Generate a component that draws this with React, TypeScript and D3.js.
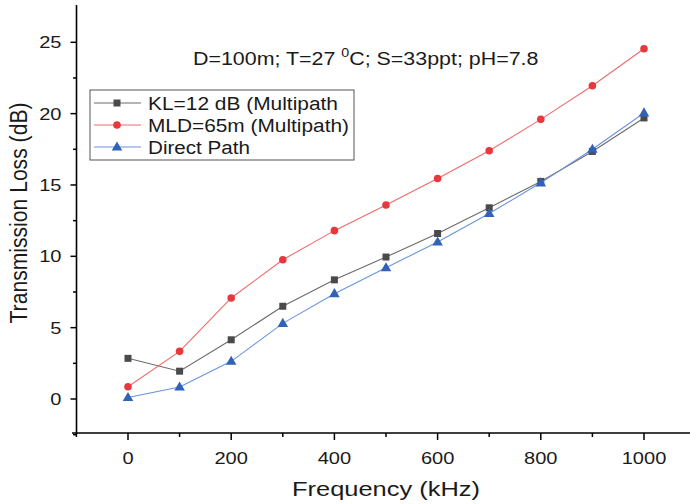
import React from "react";
import * as d3 from "d3";

const freqs = [0, 100, 200, 300, 400, 500, 600, 700, 800, 900, 1000];
const klValues = [2.85, 1.95, 4.15, 6.5, 8.35, 9.95, 11.6, 13.4, 15.25, 17.35, 19.7];
const mldValues = [0.86, 3.34, 7.08, 9.76, 11.8, 13.6, 15.45, 17.4, 19.6, 21.95, 24.55];
const directValues = [0.1, 0.84, 2.64, 5.3, 7.38, 9.2, 11.0, 13.0, 15.15, 17.5, 20.05];
const xMajorTicks = [0, 200, 400, 600, 800, 1000];
const xMinorTicks = [-100, 100, 300, 500, 700, 900];
const yMajorTicks = [0, 5, 10, 15, 20, 25];
const yMinorTicks = [-2.5, 2.5, 7.5, 12.5, 17.5, 22.5];
const seriesNames = ["KL=12 dB (Multipath", "MLD=65m (Multipath)", "Direct Path"];
const legendWidths = [190, 201, 102];

const W = 690, H = 504;
const x = d3.scaleLinear().domain([-100, 1100]).range([76.4, 695.6]);
const y = d3.scaleLinear().domain([0, 25]).range([399, 42.3]);
const yTop = 5, yBot = 433, xLeft = 76.5, xRight = 690;

const font = "'Liberation Sans', Arial, sans-serif";
const textCol = "#1a1a1a";
const SX = 1.18;

const series = [
  { name: seriesNames[0], values: klValues, line: "#6b6b6b", marker: "#4a4a4a", shape: "square" },
  { name: seriesNames[1], values: mldValues, line: "#f26a6a", marker: "#e8383d", shape: "circle" },
  { name: seriesNames[2], values: directValues, line: "#6a94dc", marker: "#2f62b8", shape: "triangle" },
];

function Marker({ shape, cx, cy, color }: { shape: string; cx: number; cy: number; color: string }) {
  if (shape === "square") return <rect x={cx - 3.5} y={cy - 3.5} width={7} height={7} fill={color} />;
  if (shape === "circle") return <circle cx={cx} cy={cy} r={3.8} fill={color} />;
  const sym = d3.symbol().type(d3.symbolTriangle).size(48)();
  return <path d={sym || ""} transform={`translate(${cx},${cy + 0.5})`} fill={color} />;
}

function SText({ x0, y0, anchor, size, children }: { x0: number; y0: number; anchor: string; size: number; children: any }) {
  return (
    <g transform={`translate(${x0},${y0}) scale(${SX},1)`}>
      <text x={0} y={0} textAnchor={anchor} fontFamily={font} fontSize={size} fill={textCol}>{children}</text>
    </g>
  );
}

export default function App() {
  const line = d3.line<number>().x((_, i) => x(freqs[i])).y((v) => y(v));
  return (
    <svg width={W} height={H} style={{ position: "absolute", left: 0, top: 0, background: "#fff" }}>
      {/* axes */}
      <line x1={xLeft} x2={xLeft} y1={yTop} y2={yBot + 1} stroke="#000" strokeWidth={1.6} />
      <line x1={72} x2={xRight} y1={yBot} y2={yBot} stroke="#000" strokeWidth={1.6} />
      {yMajorTicks.map((t) => (
        <g key={"ym" + t}>
          <line x1={xLeft - 6} x2={xLeft} y1={y(t)} y2={y(t)} stroke="#000" strokeWidth={1.5} />
          <SText x0={61.5} y0={y(t) + 6} anchor="end" size={17}>{t}</SText>
        </g>
      ))}
      {yMinorTicks.map((t) => (
        <line key={"yn" + t} x1={xLeft - 3.5} x2={xLeft} y1={y(t)} y2={y(t)} stroke="#000" strokeWidth={1.5} />
      ))}
      {xMajorTicks.map((t) => (
        <g key={"xm" + t}>
          <line x1={x(t)} x2={x(t)} y1={yBot} y2={yBot + 7} stroke="#000" strokeWidth={1.5} />
          <SText x0={x(t)} y0={464} anchor="middle" size={17}>{t}</SText>
        </g>
      ))}
      {xMinorTicks.map((t) => (
        <line key={"xn" + t} x1={x(t)} x2={x(t)} y1={yBot} y2={yBot + 4} stroke="#000" strokeWidth={1.5} />
      ))}
      <text x={386} y={496} textAnchor="middle" fontFamily={font} fontSize={20} fill={textCol}
        textLength={188} lengthAdjust="spacingAndGlyphs">Frequency (kHz)</text>
      <text transform="translate(27,213) rotate(-90)" textAnchor="middle" fontFamily={font} fontSize={23} fill={textCol}
        textLength={221} lengthAdjust="spacingAndGlyphs">Transmission Loss (dB)</text>

      {/* series */}
      {series.map((s) => (
        <g key={s.name}>
          <path d={line(s.values) || ""} fill="none" stroke={s.line} strokeWidth={1.1} />
          {s.values.map((v, i) => (
            <Marker key={i} shape={s.shape} cx={x(freqs[i])} cy={y(v)} color={s.marker} />
          ))}
        </g>
      ))}

      {/* annotation */}
      <g transform={`translate(193,65) scale(1.19,1)`}>
        <text x={0} y={0} fontFamily={font} fontSize={18} fill={textCol}>
          D=100m; T=27 <tspan dy={-8} fontSize={12}>0</tspan><tspan dy={8}>C; S=33ppt; pH=7.8</tspan>
        </text>
      </g>

      {/* legend */}
      <rect x={90} y={90} width={264} height={70} fill="#fff" stroke="#555" strokeWidth={1} />
      {series.map((s, i) => {
        const cy = 103 + i * 22;
        return (
          <g key={"lg" + i}>
            <line x1={94} x2={141} y1={cy} y2={cy} stroke={s.line} strokeWidth={1.1} />
            <Marker shape={s.shape} cx={117} cy={cy} color={s.marker} />
            <text x={148} y={cy + 6.5} fontFamily={font} fontSize={18} fill={textCol}
              textLength={legendWidths[i]} lengthAdjust="spacingAndGlyphs">{s.name}</text>
          </g>
        );
      })}
    </svg>
  );
}
